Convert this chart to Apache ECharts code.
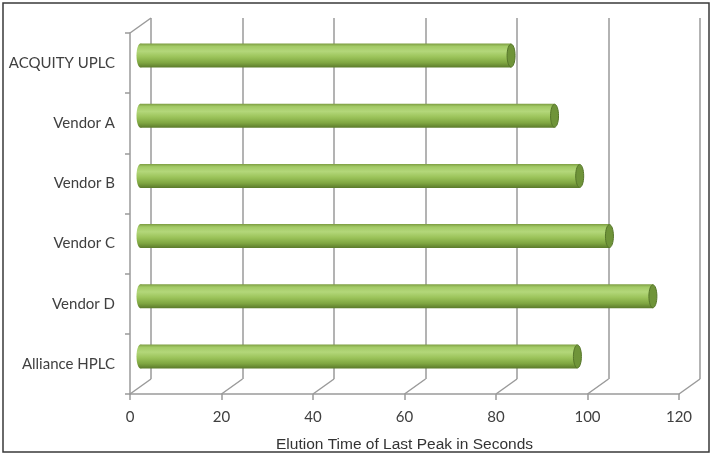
<!DOCTYPE html>
<html>
<head>
<meta charset="utf-8">
<script src="https://cdn.jsdelivr.net/npm/echarts@6/dist/echarts.min.js"></script>
<style>
  html, body { margin: 0; padding: 0; background: #fff; }
  #chart { width: 714px; height: 458px; }
</style>
</head>
<body>
<div id="chart"></div>
<script>
var categories = ['ACQUITY UPLC', 'Vendor A', 'Vendor B', 'Vendor C', 'Vendor D', 'Alliance HPLC'];
var elutionTimes = [81, 90.5, 96, 102.5, 112, 95.5];
var xTicks = [0, 20, 40, 60, 80, 100, 120];

// depth of the fake 3d box, in pixels
var DX = 21, DY = -15;
var BAR_H = 24, CAP_RX = 4;

var gridLine = '#9a9a9a';
var labelColor = '#404040';

function renderBar(params, api) {
  var idx = api.value(1);
  var start = api.coord([0, idx]);
  var end = api.coord([api.value(0), idx]);
  var x0 = start[0] + DX / 2, x1 = end[0] + DX / 2;
  var cy = start[1] + DY / 2;
  var body = new echarts.graphic.LinearGradient(0, 0, 0, 1, [
    { offset: 0, color: '#7d9d42' },
    { offset: 0.12, color: '#a3ca66' },
    { offset: 0.32, color: '#b3d77a' },
    { offset: 0.55, color: '#9cc45b' },
    { offset: 0.8, color: '#7fa641' },
    { offset: 1, color: '#5b7a2b' }
  ]);
  return {
    type: 'group',
    children: [
      { type: 'ellipse', shape: { cx: x0, cy: cy, rx: CAP_RX, ry: BAR_H / 2 }, style: { fill: body } },
      { type: 'rect', shape: { x: x0, y: cy - BAR_H / 2, width: x1 - x0, height: BAR_H }, style: { fill: body } },
      { type: 'ellipse', shape: { cx: x1, cy: cy, rx: CAP_RX, ry: BAR_H / 2 - 0.5 },
        style: { fill: '#6f9439', stroke: '#56762a', lineWidth: 1 } }
    ]
  };
}

function renderDiagonal(params, api) {
  var p = api.coord([api.value(0), api.value(1)]);
  return {
    type: 'line',
    shape: { x1: p[0], y1: p[1], x2: p[0] + DX, y2: p[1] + DY },
    style: { stroke: gridLine, lineWidth: 1.5 }
  };
}

var diagonalData = xTicks.map(function (v) { return [v, 0]; });
diagonalData.push([0, 1]);

var option = {
  animation: false,
  graphic: [{
    type: 'rect',
    shape: { x: 3, y: 3, width: 706, height: 449 },
    style: { fill: 'none', stroke: '#3a3a3a', lineWidth: 1.5 },
    z: 100
  }],
  grid: [
    { left: 130, right: 35, top: 33, bottom: 64 },
    { left: 151, right: 14, top: 18, bottom: 79 },
    { left: 130, right: 35, top: 33, bottom: 64 }
  ],
  xAxis: [
    {
      gridIndex: 0, type: 'value', min: 0, max: 120, interval: 20,
      name: 'Elution Time of Last Peak in Seconds',
      nameLocation: 'middle', nameGap: 43,
      nameTextStyle: { fontFamily: 'Liberation Sans', fontSize: 15.5, color: '#333' },
      axisLine: { show: true, lineStyle: { color: gridLine, width: 1.5 } },
      axisTick: { show: true, length: 6, lineStyle: { color: gridLine, width: 1.5 } },
      axisLabel: { margin: 16, fontFamily: 'Lato', fontSize: 15, color: labelColor },
      splitLine: { show: false }
    },
    {
      gridIndex: 1, type: 'value', min: 0, max: 120, interval: 20,
      axisLine: { show: false }, axisTick: { show: false }, axisLabel: { show: false },
      splitLine: { show: true, lineStyle: { color: gridLine, width: 1.5 } }
    },
    { gridIndex: 2, type: 'value', min: 0, max: 120, show: false }
  ],
  yAxis: [
    {
      gridIndex: 0, type: 'category', data: categories, inverse: true,
      axisLine: { show: true, lineStyle: { color: gridLine, width: 1.5 } },
      axisTick: { show: true, length: 5, lineStyle: { color: gridLine, width: 1.5 } },
      axisLabel: { margin: 15, fontFamily: 'Lato', fontSize: 15, color: labelColor },
      splitLine: { show: false }
    },
    { gridIndex: 1, type: 'value', min: 0, max: 1, show: false, splitLine: { show: false } },
    { gridIndex: 2, type: 'value', min: 0, max: 1, show: false }
  ],
  series: [
    {
      type: 'custom', xAxisIndex: 2, yAxisIndex: 2,
      renderItem: renderDiagonal, data: diagonalData, silent: true, z: 1
    },
    {
      type: 'custom', xAxisIndex: 0, yAxisIndex: 0,
      renderItem: renderBar,
      encode: { x: 0, y: 1 },
      data: elutionTimes.map(function (v, i) { return [v, i]; }),
      z: 5
    }
  ]
};

var myChart = echarts.init(document.getElementById('chart'));
myChart.setOption(option);
</script>
</body>
</html>
